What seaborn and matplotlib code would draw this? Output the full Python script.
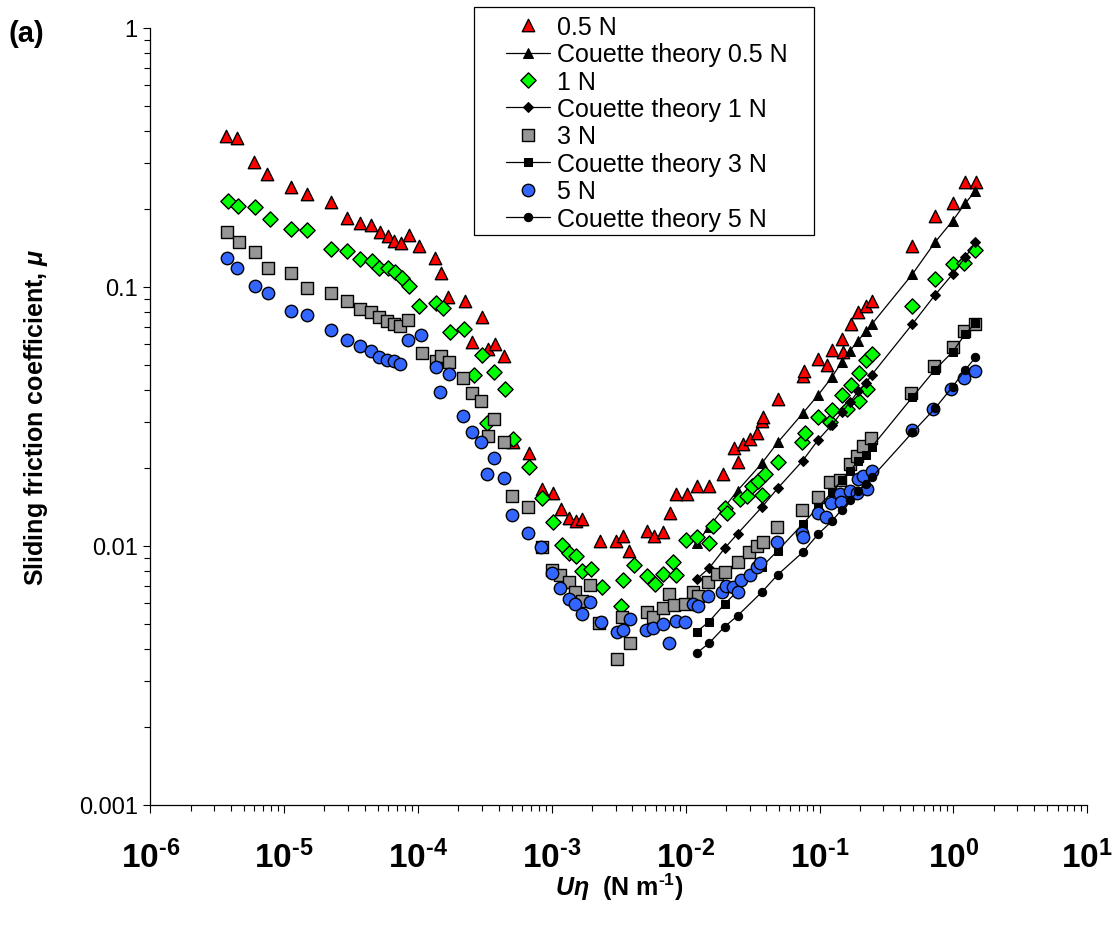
import numpy as np
import matplotlib
matplotlib.use("Agg")
import matplotlib.pyplot as plt
import seaborn as sns
from matplotlib.ticker import LogLocator, FixedLocator, FuncFormatter, NullFormatter, FixedFormatter
from matplotlib.patches import Rectangle

# ---------------- data ----------------
# 0.5 N experiment
x_05 = [3.68e-6, 4.47e-6, 5.92e-6, 7.41e-6, 1.125e-5, 1.48e-5, 2.25e-5, 2.96e-5, 3.69e-5, 4.48e-5,
        5.2e-5, 5.93e-5, 6.61e-5, 7.5e-5, 8.61e-5, 1.01e-4, 1.33e-4, 1.49e-4, 1.68e-4, 2.25e-4,
        2.99e-4, 2.52e-4, 3.35e-4, 3.76e-4, 4.41e-4, 5.15e-4, 6.71e-4, 8.39e-4, 1.014e-3, 1.17e-3,
        1.342e-3, 1.514e-3, 1.688e-3, 2.288e-3, 3.0e-3, 3.42e-3, 3.77e-3, 5.11e-3, 5.79e-3, 6.8e-3,
        7.59e-3, 8.46e-3, 1.027e-2, 1.208e-2, 1.492e-2, 1.908e-2, 2.306e-2, 2.444e-2, 2.664e-2, 3.047e-2,
        3.436e-2, 3.693e-2, 3.797e-2, 4.864e-2, 7.48e-2, 7.64e-2, 9.78e-2, 0.113, 0.1231, 0.1463,
        0.1503, 0.1716, 0.1953, 0.2222, 0.2462, 0.4943, 0.728, 0.987, 1.219, 1.474]
y_05 = [0.381, 0.375, 0.304, 0.272, 0.242, 0.228, 0.212, 0.1836, 0.176, 0.173,
        0.162, 0.157, 0.1505, 0.148, 0.159, 0.144, 0.1288, 0.1126, 0.091, 0.0883,
        0.0766, 0.0613, 0.0575, 0.0601, 0.0539, 0.02507, 0.02274, 0.01656, 0.01594, 0.01386,
        0.01276, 0.01249, 0.01268, 0.01045, 0.01045, 0.01093, 0.00957, 0.01143, 0.01087, 0.01126,
        0.01338, 0.01583, 0.01583, 0.01705, 0.01705, 0.01891, 0.02394, 0.02108, 0.0247, 0.02573,
        0.02724, 0.0304, 0.03141, 0.03685, 0.04532, 0.04726, 0.0528, 0.0497, 0.0571, 0.063,
        0.0562, 0.0715, 0.0801, 0.0842, 0.0881, 0.1438, 0.1868, 0.2096, 0.2526, 0.2526]

# 1 N experiment
x_1 = [3.79e-6, 4.50e-6, 6.09e-6, 7.84e-6, 1.125e-5, 1.481e-5, 2.239e-5, 2.947e-5, 3.686e-5, 4.556e-5,
       5.137e-5, 5.934e-5, 6.73e-5, 7.59e-5, 8.56e-5, 1.012e-4, 1.369e-4, 1.529e-4, 1.721e-4, 2.216e-4,
       2.633e-4, 2.99e-4, 3.293e-4, 3.714e-4, 4.465e-4, 5.15e-4, 6.71e-4, 8.39e-4, 1.025e-3, 1.184e-3,
       1.349e-3, 1.514e-3, 1.67e-3, 1.95e-3, 2.357e-3, 3.284e-3, 3.382e-3, 4.107e-3, 5.11e-3, 5.89e-3,
       6.73e-3, 7.99e-3, 8.46e-3, 9.99e-3, 1.214e-2, 1.492e-2, 1.585e-2, 1.965e-2, 2.033e-2, 2.543e-2,
       2.853e-2, 3.152e-2, 3.496e-2, 3.943e-2, 3.693e-2, 4.864e-2, 7.35e-2, 7.84e-2, 9.78e-2, 0.1196,
       0.1231, 0.1458, 0.1594, 0.1716, 0.198, 0.198, 0.221, 0.2272, 0.2463, 0.4943,
       0.7278, 0.9867, 1.209, 1.461]
y_1 = [0.2143, 0.2049, 0.2025, 0.1825, 0.1675, 0.1651, 0.1395, 0.137, 0.1276, 0.1257,
       0.1184, 0.1178, 0.1136, 0.1083, 0.1009, 0.0841, 0.0865, 0.083, 0.0667, 0.0685,
       0.0456, 0.0546, 0.02977, 0.0467, 0.0403, 0.0258, 0.02008, 0.01524, 0.01238, 0.01006,
       0.00937, 0.0091, 0.0080, 0.00813, 0.00691, 0.00587, 0.00737, 0.00844, 0.00766, 0.00711,
       0.00778, 0.00863, 0.00773, 0.01055, 0.0108, 0.01024, 0.01192, 0.01398, 0.01338, 0.01515,
       0.01549, 0.01693, 0.01778, 0.01891, 0.0157, 0.02096, 0.02514, 0.02716, 0.03141, 0.03004,
       0.03327, 0.0382, 0.03371, 0.04174, 0.04643, 0.03629, 0.0519, 0.0403, 0.0552, 0.0839,
       0.1071, 0.1222, 0.123, 0.139]

# 3 N experiment
x_3 = [3.76e-6, 4.575e-6, 6.025e-6, 7.53e-6, 1.119e-5, 1.474e-5, 2.227e-5, 2.947e-5, 3.667e-5, 4.455e-5,
       5.11e-5, 5.894e-5, 6.614e-5, 7.373e-5, 8.49e-5, 1.065e-4, 1.362e-4, 1.485e-4, 1.703e-4, 2.18e-4,
       2.518e-4, 2.955e-4, 3.714e-4, 3.315e-4, 4.388e-4, 5.035e-4, 6.665e-4, 8.39e-4, 1.007e-3, 1.15e-3,
       1.342e-3, 1.488e-3, 1.67e-3, 1.927e-3, 2.26e-3, 3.066e-3, 3.358e-3, 3.834e-3, 5.11e-3, 5.72e-3,
       6.73e-3, 7.46e-3, 8.21e-3, 9.87e-3, 1.139e-2, 1.241e-2, 1.474e-2, 1.721e-2, 1.982e-2, 2.47e-2,
       2.97e-2, 3.389e-2, 3.757e-2, 4.83e-2, 7.35e-2, 9.68e-2, 0.1196, 0.1421, 0.1687, 0.1893,
       0.2121, 0.2421, 0.4817, 0.7195, 0.987, 1.198, 1.461]
y_3 = [0.1622, 0.1484, 0.1358, 0.1178, 0.1129, 0.0989, 0.0946, 0.0883, 0.082, 0.0796,
       0.0766, 0.0739, 0.0718, 0.0707, 0.0745, 0.0557, 0.0518, 0.0541, 0.0511, 0.0443,
       0.0389, 0.0361, 0.0308, 0.02644, 0.02521, 0.0156, 0.01414, 0.00986, 0.00808, 0.0077,
       0.00722, 0.00661, 0.00613, 0.00707, 0.00503, 0.00365, 0.00529, 0.00421, 0.00553, 0.00529,
       0.00573, 0.00651, 0.0059, 0.00598, 0.00665, 0.00641, 0.00726, 0.00778, 0.0079, 0.00863,
       0.00943, 0.0100, 0.01036, 0.01178, 0.01373, 0.01538, 0.01758, 0.01794, 0.02067, 0.02226,
       0.02432, 0.02605, 0.0389, 0.0496, 0.0583, 0.0676, 0.0715]

# 5 N experiment
x_5 = [3.76e-6, 4.418e-6, 6.025e-6, 7.53e-6, 1.119e-5, 1.474e-5, 2.227e-5, 2.947e-5, 3.667e-5, 4.455e-5,
       5.11e-5, 5.865e-5, 6.614e-5, 7.373e-5, 8.46e-5, 1.058e-4, 1.355e-4, 1.467e-4, 1.703e-4, 2.18e-4,
       2.518e-4, 2.97e-4, 3.293e-4, 3.714e-4, 4.388e-4, 5.035e-4, 6.665e-4, 8.29e-4, 1.007e-3, 1.156e-3,
       1.342e-3, 1.488e-3, 1.67e-3, 1.927e-3, 2.316e-3, 3.082e-3, 3.382e-3, 3.834e-3, 5.047e-3, 5.66e-3,
       6.73e-3, 7.5e-3, 8.41e-3, 9.87e-3, 1.139e-2, 1.241e-2, 1.474e-2, 1.875e-2, 1.989e-2, 2.266e-2,
       2.47e-2, 2.588e-2, 3.022e-2, 3.389e-2, 3.587e-2, 4.83e-2, 7.35e-2, 7.48e-2, 9.68e-2, 0.111,
       0.121, 0.1421, 0.1448, 0.1687, 0.1893, 0.1926, 0.2121, 0.2248, 0.2449, 0.4875,
       0.7096, 0.9585, 1.209, 1.449]
y_5 = [0.1288, 0.1178, 0.1003, 0.0946, 0.0808, 0.0778, 0.068, 0.0624, 0.0589, 0.0563,
       0.0534, 0.0523, 0.0515, 0.0503, 0.0624, 0.0653, 0.0489, 0.0393, 0.046, 0.0316,
       0.0274, 0.02507, 0.01891, 0.02175, 0.01826, 0.01314, 0.0112, 0.00986, 0.00785, 0.00685,
       0.00623, 0.00595, 0.00545, 0.00605, 0.00509, 0.00466, 0.00473, 0.00521, 0.00473, 0.0048,
       0.00498, 0.0042, 0.00513, 0.00508, 0.00595, 0.00585, 0.00637, 0.00665, 0.00699, 0.00691,
       0.00661, 0.00737, 0.00773, 0.00825, 0.00858, 0.0103, 0.0112, 0.01077, 0.01338, 0.01288,
       0.01462, 0.01584, 0.01471, 0.01631, 0.01594, 0.0181, 0.01854, 0.01656, 0.01949, 0.02797,
       0.03362, 0.0402, 0.0444, 0.0471]

# Couette theory (shared U*eta values)
x_couette = [0.01208, 0.01492, 0.01952, 0.02441, 0.03693, 0.04864, 0.0748, 0.0978, 0.1231, 0.1463,
             0.1687, 0.1946, 0.2222, 0.2462, 0.4943, 0.728, 0.987, 1.226, 1.461]
y_c05 = [0.01024, 0.0118, 0.0141, 0.01633, 0.02077, 0.02503, 0.03242, 0.03825, 0.04461, 0.05121,
         0.0566, 0.0619, 0.0676, 0.0718, 0.1119, 0.1484, 0.1798, 0.2099, 0.2348]
y_c1 = [0.00744, 0.00818, 0.00977, 0.01113, 0.01407, 0.01666, 0.02129, 0.02566, 0.02924, 0.03274,
        0.03579, 0.03957, 0.04248, 0.04581, 0.0718, 0.0929, 0.1119, 0.1299, 0.1484]
y_c3 = [0.004656, 0.005088, 0.005954, 0.006687, 0.008277, 0.009566, 0.01213, 0.0141, 0.01607, 0.01794,
        0.01943, 0.02129, 0.0224, 0.02411, 0.0375, 0.04781, 0.0561, 0.0657, 0.0724]
y_c5 = [0.003852, 0.0042, 0.004867, 0.005366, 0.006609, 0.007727, 0.009429, 0.0111, 0.01242, 0.01377,
        0.01501, 0.01626, 0.0173, 0.01837, 0.02738, 0.03389, 0.04111, 0.04781, 0.05336]

y_ticks = [0.001, 0.01, 0.1, 1]
y_tick_labels = ["0.001", "0.01", "0.1", "1"]
x_ticks = [1e-6, 1e-5, 1e-4, 1e-3, 1e-2, 1e-1, 1e0, 1e1]

# ---------------- style ----------------
sns.set_theme(style="ticks")
plt.rcParams['font.family'] = ['Liberation Sans', 'DejaVu Sans']
plt.rcParams['mathtext.fontset'] = 'custom'
plt.rcParams['mathtext.rm'] = 'Liberation Sans:bold'
plt.rcParams['mathtext.bf'] = 'Liberation Sans:bold'
plt.rcParams['mathtext.it'] = 'Liberation Sans:italic:bold'

W, H = 1120, 929
fig = plt.figure(figsize=(W / 100, H / 100), dpi=100)
fig.patch.set_facecolor('white')
ax = fig.add_axes([150.3 / W, 1 - 805.7 / H, 937 / W, 777 / H])
ax.set_facecolor('white')
ax.set_xscale('log')
ax.set_yscale('log')

ms = 80
series = [
    (x_05, y_05, '^', '#FF0000', '0.5 N', y_c05, 'Couette theory 0.5 N', 6.5),
    (x_1, y_1, 'D', '#00FF00', '1 N', y_c1, 'Couette theory 1 N', 5.5),
    (x_3, y_3, 's', '#969696', '3 N', y_c3, 'Couette theory 3 N', 6.0),
    (x_5, y_5, 'o', '#3366FF', '5 N', y_c5, 'Couette theory 5 N', 6.0),
]
z = 3
for xs, ys, mk, col, lab, yc, clab, cms in series:
    s = ms if mk != 'D' else 60
    sns.scatterplot(x=xs, y=ys, marker=mk, s=s, color=col, edgecolor='black',
                    linewidth=1.0, label=lab, ax=ax, zorder=z)
    z += 1
    sns.lineplot(x=x_couette, y=yc, marker=mk, markersize=cms, color='black',
                 markeredgecolor='black', linewidth=0.9, label=clab, ax=ax,
                 estimator=None, sort=False, zorder=z)
    z += 1

ax.set_xlim(1e-6, 10)
ax.set_ylim(1e-3, 1)
sns.despine(ax=ax)
for sp in ['left', 'bottom']:
    ax.spines[sp].set_color('black')
    ax.spines[sp].set_linewidth(0.9)

HY = '\u2010'
ax.xaxis.set_major_locator(FixedLocator(x_ticks))
ax.xaxis.set_minor_locator(LogLocator(base=10, subs=np.arange(2, 10), numticks=20))
ax.xaxis.set_major_formatter(FuncFormatter(
    lambda v, p: r'$\mathbf{10^{%s}}$' % (str(int(round(np.log10(v)))).replace('-', HY))))
ax.xaxis.set_minor_formatter(NullFormatter())
ax.yaxis.set_major_locator(FixedLocator(y_ticks))
ax.yaxis.set_major_formatter(FixedFormatter(y_tick_labels))
ax.yaxis.set_minor_locator(LogLocator(base=10, subs=np.arange(2, 10), numticks=20))
ax.yaxis.set_minor_formatter(NullFormatter())

ax.tick_params(axis='both', which='both', direction='out', color='black', width=0.8,
               bottom=True, left=True, top=False, right=False)
ax.tick_params(axis='x', which='major', length=5.8, pad=19.5, labelsize=24, labelcolor='black')
ax.tick_params(axis='x', which='minor', length=4.3)
ax.tick_params(axis='y', which='major', length=5.0, pad=4, labelsize=17, labelcolor='black')
ax.tick_params(axis='y', which='minor', length=4.0)

ax.set_xlabel(r'$U\eta$  (N m$^{%s1}$)' % HY, fontsize=18, fontweight='bold', color='black')
ax.xaxis.set_label_coords(0.5, -0.0853)
ax.set_ylabel(r'Sliding friction coefficient, $\mu$', fontsize=18, fontweight='bold', color='black')
ax.yaxis.set_label_coords(-0.1067, 0.5)

handles, labels = ax.get_legend_handles_labels()
leg = ax.legend(handles, labels, loc='upper left', bbox_to_anchor=(506 / W, 1 - 16.0 / H),
                bbox_transform=fig.transFigure, frameon=False, fontsize=18,
                handlelength=1.75, handletextpad=0.28, labelspacing=0.135, borderpad=0,
                borderaxespad=0, scatterpoints=1, scatteryoffsets=[0.5], numpoints=1)
for t in leg.get_texts():
    t.set_color('black')
fig.add_artist(Rectangle((474 / W, 1 - 236 / H), 340 / W, 227.7 / H, transform=fig.transFigure,
                         fill=False, edgecolor='black', linewidth=0.9))

fig.text(8 / W, 1 - 34 / H, '(a)', fontsize=21, fontweight='bold', va='center', ha='left', color='black')

fig.savefig('out.png', dpi=100, facecolor='white')
